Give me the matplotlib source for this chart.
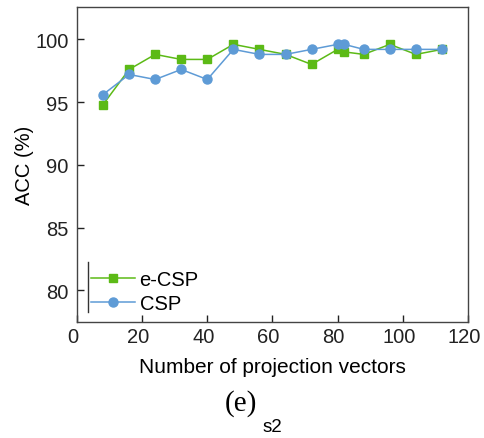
import numpy as np
import matplotlib.pyplot as plt
import matplotlib.transforms as mtransforms
from matplotlib.lines import Line2D

plt.rcParams['font.family'] = ['Liberation Sans', 'DejaVu Sans']

n_vectors = [8, 16, 24, 32, 40, 48, 56, 64, 72, 80, 82, 88, 96, 104, 112]
ecsp_acc = [94.8, 97.6, 98.8, 98.4, 98.4, 99.6, 99.2, 98.8, 98.0, 99.2, 99.0, 98.8, 99.6, 98.8, 99.2]
csp_acc = [95.6, 97.2, 96.8, 97.6, 96.8, 99.2, 98.8, 98.8, 99.2, 99.6, 99.6, 99.2, 99.2, 99.2, 99.2]
xticks = [0, 20, 40, 60, 80, 100, 120]
yticks = [80, 85, 90, 95, 100]

green = '#5cba16'
blue = '#5e9bd6'

fig = plt.figure(figsize=(4.84, 4.39), dpi=100)
ax = fig.add_axes([0.159, 0.265, 0.808, 0.716])

ax.plot(n_vectors, ecsp_acc, color=green, marker='s', markersize=6, lw=1.1, label='e-CSP')
ax.plot(n_vectors, csp_acc, color=blue, marker='o', markersize=6.5, lw=1.1, label='CSP')

ax.set_xlim(0, 120)
ax.set_ylim(77.5, 102.55)
ax.set_xticks(xticks)
ax.set_yticks(yticks)
ax.tick_params(direction='in', length=5, labelsize=14.5, width=1, colors='#222222')
ax.tick_params(axis='y', pad=6)
# x tick labels sit a little left of their ticks in the original
shift = mtransforms.ScaledTranslation(-4 / 100, 0, fig.dpi_scale_trans)
for lbl in ax.get_xticklabels():
    lbl.set_transform(lbl.get_transform() + shift)
for s in ax.spines.values():
    s.set_color('#444444')
    s.set_linewidth(1)

ax.set_xlabel('Number of projection vectors', fontsize=15, labelpad=8)
ax.set_ylabel('ACC (%)', fontsize=14.5, labelpad=1)

leg = ax.legend(loc='lower left', bbox_to_anchor=(-0.01, -0.03), frameon=False,
                fontsize=14.5, handlelength=2.2, handletextpad=0.2, labelspacing=0.25,
                borderaxespad=0.5)
ax.add_line(Line2D([0.028, 0.028], [0.03, 0.19], transform=ax.transAxes,
                   color='#333333', lw=1))

fig.text(0.498, 0.08, '(e)', fontsize=21, family=['Liberation Serif'], ha='center', va='center')
fig.text(0.562, 0.027, 's2', fontsize=13.5, ha='center', va='center')

fig.savefig('out.png', dpi=100)
